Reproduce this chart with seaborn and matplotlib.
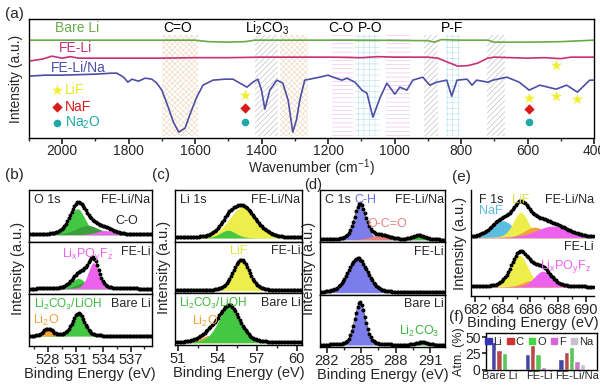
import numpy as np
import pandas as pd
import matplotlib
matplotlib.use("Agg")
import matplotlib.pyplot as plt
import seaborn as sns
from matplotlib.ticker import MultipleLocator

# ---------------- (a) FTIR ----------------
wn_lina = [2100, 2050, 2000, 1950, 1900, 1850, 1835, 1815, 1802, 1790, 1780, 1770, 1750, 1730,
           1715, 1700, 1685, 1665, 1649, 1630, 1616, 1595, 1576, 1546, 1510, 1486, 1465, 1444,
           1426, 1411, 1400, 1390, 1375, 1354, 1336, 1320, 1306, 1295, 1285, 1270, 1255, 1225,
           1200, 1185, 1158, 1143, 1119, 1098, 1083, 1065, 1044, 1023, 999, 984, 963, 945, 915,
           894, 873, 843, 828, 812, 782, 767, 753, 719, 704, 662, 625, 595, 563, 514, 482, 450,
           413, 400]
int_lina = [62, 63, 63, 63.5, 64, 65, 65, 61, 56, 59, 58, 57, 60, 59,
            55, 48, 35, 16, 6, 10, 23, 41, 53, 58, 59, 59, 55, 51,
            56, 59, 48, 29, 48, 58, 55, 38, 6, 18, 38, 58, 59, 61,
            63, 61, 58, 60, 56, 48, 45, 21, 40, 55, 44, 51, 48, 58, 61,
            53, 56, 58, 42, 58, 59, 53, 58, 56, 58, 61, 56, 48, 53, 49, 53, 46,
            58, 58]
wn_feli = [2100, 2060, 2030, 2000, 1975, 1950, 1900, 1800, 1700, 1600, 1500, 1400, 1300, 1200,
           1100, 1050, 1000, 900, 870, 840, 810, 780, 750, 720, 700, 650, 600, 550, 500, 470,
           430, 400]
int_feli = [77, 79, 82, 80, 81.5, 80, 80, 80, 80, 80.5, 80.5, 81, 81, 81,
            80.5, 81.5, 81, 81, 80, 76, 72, 72.5, 75, 80, 81, 80.5, 80, 80.5, 79.5, 81,
            81, 81]
wn_bare = [2100, 1900, 1700, 1600, 1560, 1500, 1450, 1420, 1300, 1100, 900, 880, 860, 800,
           720, 700, 600, 500, 400]
int_bare = [98, 98, 98, 98, 96.5, 96, 96.5, 98, 98, 98, 97.5, 96, 98.5, 98,
            98, 96, 96, 96.5, 98]

band_lo = [1590, 1350, 1260, 1125, 1044, 954, 869, 803, 668]
band_hi = [1700, 1420, 1345, 1188, 1119, 1026, 911, 845, 722]
band_kind = ["o", "g", "o", "p", "c", "p", "g", "c", "g"]

group_labels = ["C=O", "Li$_2$CO$_3$", "C-O", "P-O", "P-F"]
group_wn = [1652, 1384, 1160, 1072, 827]

star_wn = [1450, 595, 515, 515, 450]
star_y = [43, 40, 73, 42, 39]
diamond_wn = [1450, 595]
diamond_y = [30, 29]
circle_wn = [1450, 595]
circle_y = [16, 16]

# ---------------- XPS peak fits (center, fwhm, height) ----------------
o1s_top_c, o1s_top_w, o1s_top_h = [531.2, 532.3, 534.2], [2.0, 3.0, 2.4], [0.50, 0.18, 0.08]
o1s_mid_c, o1s_mid_w, o1s_mid_h = [531.3, 532.0, 532.95], [1.8, 2.2, 1.4], [0.20, 0.12, 0.50]
o1s_bot_c, o1s_bot_w, o1s_bot_h = [528.0, 531.3], [1.2, 1.6], [0.14, 0.44]
o1s_base = [0.14, 0.10, 0.19]

li1s_top_c, li1s_top_w, li1s_top_h = [55.9, 54.8], [2.4, 1.4], [0.60, 0.15]
li1s_mid_c, li1s_mid_w, li1s_mid_h = [55.8], [1.5], [0.60]
li1s_bot_c, li1s_bot_w, li1s_bot_h = [53.4, 54.9], [1.6, 1.9], [0.14, 0.72]
li1s_base = [0.07, 0.05, 0.04]

c1s_top_c, c1s_top_w, c1s_top_h = [284.9, 286.6, 290.0], [1.2, 2.0, 1.3], [0.68, 0.08, 0.08]
c1s_mid_c, c1s_mid_w, c1s_mid_h = [284.7], [2.0], [0.66]
c1s_bot_c, c1s_bot_w, c1s_bot_h = [284.9, 290.3], [1.1, 1.2], [0.82, 0.05]
c1s_base = [0.05, 0.04, 0.04]

f1s_top_c, f1s_top_w, f1s_top_h = [684.0, 685.3, 686.3, 687.6], [1.9, 1.3, 1.8, 2.8], [0.16, 0.24, 0.10, 0.11]
f1s_bot_c, f1s_bot_w, f1s_bot_h = [685.2, 686.0, 686.9], [1.5, 1.5, 1.5], [0.30, 0.06, 0.15]
f1s_base = [0.55, 0.085]

# ---------------- (f) atomic ratio ----------------
samples = ["Bare Li", "FE-Li", "FE-Li/Na"]
elements = ["Li", "C", "O", "F", "Na"]
atm_li = [42.5, 23.5, 16]
atm_c = [31, 38, 28]
atm_o = [25, 23.5, 35]
atm_f = [0, 4, 13]
atm_na = [0, 0, 9]
sample_label_x = [-0.13, 1.05, 2.15]

# colours
GREEN, DGREEN, MAG, ORANGE = "#44c844", "#3a9e3a", "#ee60ee", "#f0a43a"
YELLOW, BLUE, SALMON, CYAN = "#eeee4a", "#7c7cea", "#ee8080", "#5cbde2"
TXTGREEN = "#3cb83c"

sns.set_theme(style="ticks")
plt.rcParams["font.family"] = ["Liberation Sans", "DejaVu Sans"]
plt.rcParams["mathtext.default"] = "regular"
plt.rcParams["hatch.linewidth"] = 0.4


def pv(x, c, w, h, eta=0.3):
    g = np.exp(-4 * np.log(2) * ((x - c) / w) ** 2)
    l = 1.0 / (1 + 4 * ((x - c) / w) ** 2)
    return h * ((1 - eta) * g + eta * l)


def draw_spec(ax, x, base, cs, ws, hs, colors):
    total = np.zeros_like(x)
    for c, w, h, col in zip(cs, ws, hs, colors):
        y = pv(x, c, w, h)
        total += y
        ax.fill_between(x, base, base + y, color=col, lw=0)
    env = base + total
    ax.plot(x, env, color="#555555", lw=0.6)
    ax.plot(x[::3], env[::3], ls="none", marker="o", ms=1.8, color="black")


def frame(a):
    for s in a.spines.values():
        s.set_linewidth(1.0)
        s.set_color("black")


fig = plt.figure(figsize=(6, 3.87), dpi=100)

# ---- (a)
ax = fig.add_axes([0.048, 0.643, 0.942, 0.3075])
hatch_style = {"o": ("xxxxxx", "#ecd4b4"), "g": ("//////", "#b4b4b4"),
               "p": ("----", "#e8b8e8"), "c": ("+++", "#b4e0ea")}
for lo, hi, k in zip(band_lo, band_hi, band_kind):
    h, col = hatch_style[k]
    ax.axvspan(lo, hi, ymin=0.02, ymax=0.87, facecolor="none", edgecolor=col, hatch=h, lw=0)
sns.lineplot(x=wn_bare, y=int_bare, ax=ax, color="#6aaa4a", lw=1.2, estimator=None)
sns.lineplot(x=wn_feli, y=int_feli, ax=ax, color="#c83078", lw=1.2, estimator=None)
sns.lineplot(x=wn_lina, y=int_lina, ax=ax, color="#4e4ea6", lw=1.2, estimator=None)
ax.scatter(star_wn, star_y, marker="*", s=70, color="#eeee33", zorder=5, lw=0)
ax.scatter(diamond_wn, diamond_y, marker="D", s=28, color="#dd1a1a", zorder=5, lw=0)
ax.scatter(circle_wn, circle_y, marker="o", s=30, color="#1fa8a8", zorder=5, lw=0)
ax.scatter([2016], [48], marker="*", s=70, color="#eeee33", lw=0)
ax.scatter([2016], [31], marker="D", s=28, color="#dd1a1a", lw=0)
ax.scatter([2016], [15], marker="o", s=30, color="#1fa8a8", lw=0)
ax.text(1992, 48, "LiF", color="#e6e633", fontsize=10, va="center")
ax.text(1992, 31, "NaF", color="#dd1a1a", fontsize=10, va="center")
ax.text(1992, 15, "Na$_2$O", color="#1fa8a8", fontsize=10, va="center")
ax.text(2022, 110, "Bare Li", color="#6aaa4a", fontsize=10, va="center")
ax.text(2010, 90, "FE-Li", color="#c83078", fontsize=10, va="center")
ax.text(2034, 70, "FE-Li/Na", color="#4e4ea6", fontsize=10, va="center")
for lab, w in zip(group_labels, group_wn):
    ax.text(w, 110, lab, ha="center", va="center", fontsize=10, color="black")
ax.set_xlim(2100, 400)
ax.set_ylim(0, 119)
ax.xaxis.set_major_locator(MultipleLocator(200))
ax.xaxis.set_minor_locator(MultipleLocator(100))
ax.set_yticks([])
ax.tick_params(axis="x", which="major", length=4, labelsize=10, pad=0.5)
ax.tick_params(axis="x", which="minor", length=2.5)
ax.set_xlabel("Wavenumber (cm$^{-1}$)", fontsize=10, labelpad=-1)
ax.set_ylabel("Intensity (a.u.)", fontsize=10, labelpad=4)
frame(ax)
fig.text(0.008, 0.965, "(a)", fontsize=11, va="center")


def stack_panel(left, width, bottom, top, xlim, ticks, specs, labels_right, title):
    h = (top - bottom) / 3
    axs = []
    for i in range(3):
        a = fig.add_axes([left, top - (i + 1) * h, width, h])
        a.set_xlim(*xlim)
        a.set_ylim(0, 1)
        a.set_yticks([])
        frame(a)
        axs.append(a)
    for a, sp, lab in zip(axs, specs, labels_right):
        x = np.linspace(xlim[0], xlim[1], 260)
        draw_spec(a, x, *sp)
        a.text(0.99, 0.93, lab, transform=a.transAxes, ha="right", va="top", fontsize=9)
    axs[0].text(0.04, 0.93, title, transform=axs[0].transAxes, ha="left", va="top", fontsize=9)
    for a in axs[:2]:
        a.set_xticks([])
    axs[2].set_xticks(ticks)
    axs[2].xaxis.set_minor_locator(MultipleLocator((ticks[1] - ticks[0]) / 2))
    axs[2].tick_params(axis="x", which="major", length=4, labelsize=10.5, pad=1)
    axs[2].tick_params(axis="x", which="minor", length=2.5)
    axs[2].set_xlabel("Binding Energy (eV)", fontsize=10.5, labelpad=0)
    axs[1].set_ylabel("Intensity (a.u.)", fontsize=10.5, labelpad=3)
    return axs


right_labels = ["FE-Li/Na", "FE-Li", "Bare Li"]

# ---- (b) O 1s
axb = stack_panel(0.048, 0.205, 0.106, 0.509, (525.9, 539.3), [528, 531, 534, 537],
                  [(o1s_base[0], o1s_top_c, o1s_top_w, o1s_top_h, [GREEN, DGREEN, MAG]),
                   (o1s_base[1], o1s_mid_c, o1s_mid_w, o1s_mid_h, [GREEN, DGREEN, MAG]),
                   (o1s_base[2], o1s_bot_c, o1s_bot_w, o1s_bot_h, [ORANGE, GREEN])],
                  right_labels, "O 1s")
axb[0].text(536.6, 0.4, "C-O", fontsize=9, ha="center", va="center")
axb[1].text(532.3, 0.93, "Li$_x$PO$_y$F$_z$", color=MAG, fontsize=9, ha="center", va="top")
axb[2].text(526.5, 0.95, "Li$_2$CO$_3$/LiOH", color=TXTGREEN, fontsize=8.5, ha="left", va="top")
axb[2].text(527.8, 0.5, "Li$_2$O", color=ORANGE, fontsize=9, ha="center", va="center")
fig.text(0.008, 0.548, "(b)", fontsize=11, va="center")

# ---- (c) Li 1s
axc = stack_panel(0.292, 0.211, 0.109, 0.509, (50.8, 60.4), [51, 54, 57, 60],
                  [(li1s_base[0], li1s_top_c, li1s_top_w, li1s_top_h, [YELLOW, GREEN]),
                   (li1s_base[1], li1s_mid_c, li1s_mid_w, li1s_mid_h, [YELLOW]),
                   (li1s_base[2], li1s_bot_c, li1s_bot_w, li1s_bot_h, [ORANGE, GREEN])],
                  right_labels, "Li 1s")
axc[1].text(55.6, 0.93, "LiF", color="#e2e23a", fontsize=9, ha="center", va="top")
axc[2].text(51.1, 0.95, "Li$_2$CO$_3$/LiOH", color=TXTGREEN, fontsize=8.5, ha="left", va="top")
axc[2].text(52.1, 0.46, "Li$_2$O", color=ORANGE, fontsize=9, ha="left", va="center")
fig.text(0.253, 0.548, "(c)", fontsize=11, va="center")

# ---- (d) C 1s
axd = stack_panel(0.533, 0.209, 0.103, 0.509, (281.4, 292.3), [282, 285, 288, 291],
                  [(c1s_base[0], c1s_top_c, c1s_top_w, c1s_top_h, [BLUE, SALMON, GREEN]),
                   (c1s_base[1], c1s_mid_c, c1s_mid_w, c1s_mid_h, [BLUE]),
                   (c1s_base[2], c1s_bot_c, c1s_bot_w, c1s_bot_h, [BLUE, GREEN])],
                  right_labels, "C 1s")
axd[0].text(284.4, 0.93, "C-H", color="#6e6ee0", fontsize=9, ha="left", va="top")
axd[0].text(287.3, 0.36, "O-C=O", color=SALMON, fontsize=9, ha="center", va="center")
axd[2].text(290.0, 0.3, "Li$_2$CO$_3$", color=TXTGREEN, fontsize=9, ha="center", va="center")
fig.text(0.507, 0.522, "(d)", fontsize=10.5, va="center")

# ---- (e) F 1s
axe = fig.add_axes([0.785, 0.235, 0.205, 0.274])
xf = np.linspace(681.7, 690.6, 240)
draw_spec(axe, xf, f1s_base[0], f1s_top_c, f1s_top_w, f1s_top_h, [CYAN, YELLOW, ORANGE, MAG])
draw_spec(axe, xf, f1s_base[1], f1s_bot_c, f1s_bot_w, f1s_bot_h, [YELLOW, ORANGE, MAG])
axe.set_xlim(681.7, 690.6)
axe.set_ylim(0, 1)
axe.set_yticks([])
axe.set_xticks([682, 684, 686, 688, 690])
axe.xaxis.set_minor_locator(MultipleLocator(1))
axe.tick_params(axis="x", which="major", length=4, labelsize=10.5, pad=1)
axe.tick_params(axis="x", which="minor", length=2.5)
axe.set_xlabel("Binding Energy (eV)", fontsize=10.5, labelpad=-1)
axe.set_ylabel("Intensity (a.u.)", fontsize=10.5, labelpad=3)
sns.despine(ax=axe)
for s in ["left", "bottom"]:
    axe.spines[s].set_linewidth(1.0)
    axe.spines[s].set_color("black")
axe.text(682.3, 0.96, "F 1s", fontsize=9, va="top")
axe.text(685.3, 0.96, "LiF", color="#e2e23a", fontsize=9, ha="center", va="top")
axe.text(690.6, 0.96, "FE-Li/Na", fontsize=9, ha="right", va="top")
axe.text(683.1, 0.8, "NaF", color=CYAN, fontsize=9, ha="center", va="center")
axe.text(690.6, 0.46, "FE-Li", fontsize=9, ha="right", va="center")
axe.text(690.4, 0.28, "Li$_x$PO$_y$F$_z$", color=MAG, fontsize=9, ha="right", va="center")
fig.text(0.753, 0.543, "(e)", fontsize=11, va="center")

# ---- (f) atomic ratio
df = pd.DataFrame({
    "sample": samples * 5,
    "element": [e for e in elements for _ in samples],
    "atm": atm_li + atm_c + atm_o + atm_f + atm_na,
})
axf = fig.add_axes([0.81, 0.045, 0.185, 0.095])
pal = ["#3535b8", "#cc3535", "#44d844", "#d866d8", "#c8c0d0"]
sns.barplot(data=df, x="sample", y="atm", hue="element", palette=pal, width=0.8,
            ax=axf, legend=False)
axf.set_xlim(-0.55, 2.75)
axf.set_ylim(0, 57)
axf.set_yticks([0, 25, 50])
axf.set_xticks([])
for lab, xl in zip(samples, sample_label_x):
    axf.text(xl, -2.0, lab, ha="center", va="top", fontsize=8)
axf.tick_params(axis="y", length=3, labelsize=10, pad=1)
axf.set_xlabel("")
axf.set_ylabel("Atm. (%)", fontsize=9, labelpad=0)
frame(axf)
handles = [plt.Rectangle((0, 0), 1, 1, color=c) for c in pal]
axf.legend(handles, elements, ncol=5, loc="upper center", bbox_to_anchor=(0.48, 1.08),
           frameon=False, fontsize=8, handlelength=0.6, handleheight=0.45,
           handletextpad=0.15, columnspacing=0.45, borderpad=0.1)
fig.text(0.748, 0.18, "(f)", fontsize=11, va="center")

fig.savefig("out.png", dpi=100)
